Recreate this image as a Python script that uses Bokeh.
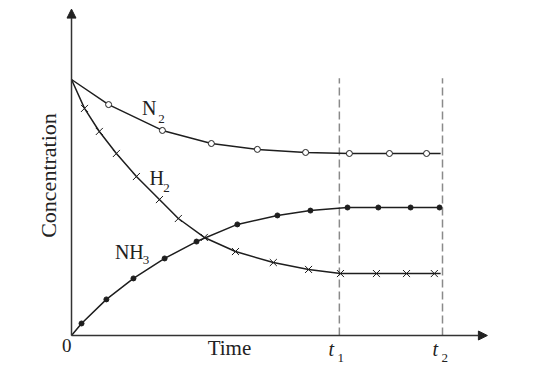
import numpy as np
from bokeh.plotting import figure
from bokeh.models import Range1d, Arrow, NormalHead, Label
from bokeh.embed import file_html
from bokeh.resources import INLINE

# ---- data (time units, concentration units) ----
start_conc = 10.0
line_end = 9.95
t1 = 7.22
t2 = 10.0

n2_t = [1.00, 2.45, 3.77, 5.01, 6.31, 7.49, 8.57, 9.57]
n2_c = [9.02, 8.01, 7.50, 7.27, 7.15, 7.11, 7.11, 7.11]

h2_t = [0.35, 0.75, 1.21, 1.75, 2.37, 2.88, 3.58, 4.42, 5.44, 6.39, 7.25, 8.22, 9.03, 9.78]
h2_c = [8.87, 7.97, 7.11, 6.21, 5.31, 4.57, 3.83, 3.28, 2.85, 2.58, 2.42, 2.42, 2.42, 2.42]

nh3_t = [0.27, 0.94, 1.67, 2.51, 3.37, 4.47, 5.55, 6.44, 7.44, 8.27, 9.14, 9.92]
nh3_c = [0.47, 1.41, 2.23, 3.01, 3.67, 4.34, 4.69, 4.88, 5.00, 5.00, 5.00, 5.00]

FONT = "Liberation Serif"
INK = "#1e1e1e"

p = figure(width=530, height=368, output_backend="svg", toolbar_location=None,
           x_axis_type=None, y_axis_type=None, min_border=0,
           x_range=Range1d(-1.914, 12.372), y_range=Range1d(-1.289, 13.086))
p.outline_line_color = None
p.background_fill_color = "white"

# dashed guides at t1, t2
for tt in (t1, t2):
    p.segment(x0=[tt], y0=[0], x1=[tt], y1=[10.05], line_color="#8a8a8a",
              line_width=1.5, line_dash="8 4")

# curves (line through start point, markers, end)
p.line([0] + n2_t + [line_end], [start_conc] + n2_c + [n2_c[-1]], line_color=INK, line_width=1.5)
p.line([0] + h2_t + [line_end], [start_conc] + h2_c + [h2_c[-1]], line_color=INK, line_width=1.5)
p.line([0] + nh3_t + [line_end], [0] + nh3_c + [nh3_c[-1]], line_color=INK, line_width=1.5)

p.scatter(n2_t, n2_c, marker="circle", size=6, fill_color="white", line_color=INK, line_width=1)
p.scatter(h2_t, h2_c, marker="x", size=10, line_color=INK, line_width=1)
p.scatter(nh3_t, nh3_c, marker="circle", size=5, fill_color=INK, line_color=INK)

# axes with arrows
p.add_layout(Arrow(end=NormalHead(size=9, fill_color="#222", line_color="#222"),
                   x_start=0, y_start=0, x_end=11.21, y_end=0,
                   line_color="#333", line_width=1.5))
p.add_layout(Arrow(end=NormalHead(size=9, fill_color="#222", line_color="#222"),
                   x_start=0, y_start=0, x_end=0, y_end=12.75,
                   line_color="#333", line_width=1.5))

DY = 0.25
SUB = 0.15

def lab(x, y, text, size, style="normal", align="left"):
    p.add_layout(Label(x=x, y=y + DY, text=text, text_font=FONT, text_font_size=f"{size}px",
                       text_font_style=style, text_align=align, text_baseline="alphabetic",
                       text_color="#222"))

lab(1.90, 8.63, "N", 20)
lab(2.34, 8.36 - SUB, "2", 13)
lab(2.10, 5.90, "H", 20)
lab(2.47, 5.66 - SUB, "2", 13)
lab(1.17, 3.01, "NH", 20)
lab(1.92, 2.85 - SUB, "3", 13)

lab(-0.13, -0.625, "0", 19, align="center")
lab(3.67, -0.74, "Time", 21)
lab(6.93, -0.78, "t", 20, style="italic")
lab(7.17, -0.98 - SUB, "1", 13)
lab(9.73, -0.78, "t", 20, style="italic")
lab(9.97, -0.98 - SUB, "2", 13)
p.add_layout(Label(x=-0.62, y=6.25, text="Concentration", text_font=FONT, text_font_size="22px",
                   text_align="center", text_baseline="middle", angle=np.pi / 2, text_color="#222"))

open("out.html", "w").write(file_html(p, INLINE))
